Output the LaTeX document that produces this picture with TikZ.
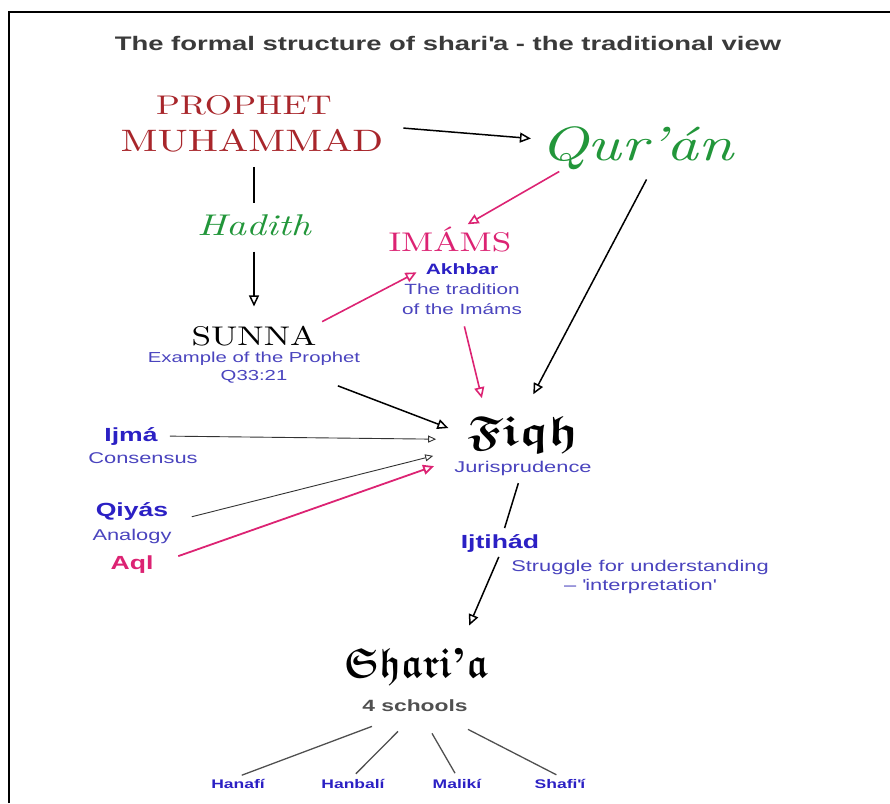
\documentclass[tikz,border=0pt]{standalone}
\usepackage{amsmath}
\usepackage{amssymb}
\usepackage{fontspec}
\usepackage{graphicx}
\usetikzlibrary{arrows.meta, positioning}
\newfontfamily\shrsans[FakeStretch=1.4]{Liberation Sans}
\newfontfamily\shrroman[Extension=.otf, UprightFont=*-regular,
  ItalicFont=*-italic, BoldFont=*-bold, FakeStretch=1.3]{lmroman10}
\newcommand\shrwide[2][1.17]{\scalebox{#1}[1]{#2}}
\newcommand\shrgoth[1]{\ensuremath{\boldsymbol{\mathfrak{#1}}}}
\definecolor{shrInk}{HTML}{3A3A3A}
\definecolor{shrRed}{HTML}{A8262B}
\definecolor{shrGreen}{HTML}{22963A}
\definecolor{shrPink}{HTML}{DC2373}
\definecolor{shrBlue}{HTML}{2B20C4}
\definecolor{shrGloss}{HTML}{4A44BE}
\definecolor{shrGrey}{HTML}{505050}

\begin{document}
\begin{tikzpicture}[
  x=1pt, y=-1pt,
  >={Triangle[open, length=11pt, width=10pt]},
  every node/.style={inner sep=2pt},
  headline/.style={font=\shrsans\bfseries\fontsize{19.6}{23}\selectfont,
                   text=shrInk, anchor=base},
  uncial/.style={font=\shrroman\fontsize{27}{30}\selectfont, anchor=base},
  script/.style={font=\shrroman\itshape\fontsize{30}{34}\selectfont,
                 text=shrGreen, anchor=base},
  goth/.style={font=\fontsize{42}{46}\selectfont, anchor=base},
  term/.style={font=\shrsans\bfseries\fontsize{19}{22}\selectfont,
               text=shrBlue, anchor=base},
  gloss/.style={font=\shrsans\fontsize{15.6}{19}\selectfont, text=shrGloss,
                align=center},
  school/.style={font=\shrsans\bfseries\fontsize{12.5}{15}\selectfont,
                 text=shrBlue, anchor=base},
  flow/.style={->, line width=1.5pt},
  pflow/.style={->, draw=shrPink, line width=1.6pt},
  fine/.style={-{Triangle[open, length=8pt, width=7pt]}, draw=black!80,
               line width=0.9pt},
  branch/.style={draw=shrGrey, line width=1.3pt},
]
\useasboundingbox (0,0) rectangle (890,803);
\draw[line width=2pt] (9,803) -- (9,12) -- (890,12);

% ======================= title ==========================================
\node[headline] (title) at (448,50)
  {The formal structure of shari\textquotesingle a - the traditional view};

% ======================= the prophet and the revelation =================
\node[uncial, text=shrRed] (prophetTop) at (244,114) {PROPHET};
\node[uncial, text=shrRed, font=\shrroman\fontsize{31}{34}\selectfont]
  (prophet) at (252,151) {MUHAMMAD};
\node[script, font=\shrroman\itshape\fontsize{48}{52}\selectfont]
  (quran) at (637,160) {Qur’án};
\draw[flow, shorten <=18pt, shorten >=7pt] (prophet.north east) -- (quran.175);

% Hadith sits on the line down to the Sunna.
\node[script] (hadith) at (254,235) {Hadith};
\node[uncial] (sunna) at (254,345) {SUNNA};
\node[gloss, font=\shrsans\fontsize{14.5}{18}\selectfont] (example)
  at (254,368) {Example of the Prophet\\Q33:21};
\draw[line width=1.5pt, shorten <=13pt, shorten >=9pt]
  (prophet.south -| hadith) -- (hadith.north);
\draw[flow, shorten <=14pt, shorten >=17pt] (hadith.south) -- (sunna.north);

% ======================= imams ==========================================
\node[uncial, text=shrPink] (imams) at (450,251) {IMÁMS};
\node[term, font=\shrsans\bfseries\fontsize{15}{18}\selectfont]
  (akhbar) at (462,274) {Akhbar};
\node[gloss, font=\shrsans\fontsize{14.8}{20}\selectfont] (tradition)
  at (462,299) {The tradition\\of the Imáms};
\draw[pflow] (quran.197) -- (imams.40);
\draw[pflow, shorten <=4pt, shorten >=8pt] (sunna.north east) -- (akhbar.west);

% ======================= fiqh ===========================================
\node[goth] (fiqh) at (523,445) {\shrwide{\shrgoth{Fiqh}}};
\node[gloss, anchor=base] (juris) at (523,472) {Jurisprudence};
\draw[pflow, shorten <=10pt, shorten >=16pt] (tradition.south) -- (fiqh.151);
\draw[flow, shorten <=9pt, shorten >=22pt] (quran.-60) -- (fiqh.north);
\draw[flow, shorten >=18pt] (example.-12) -- (fiqh.west);

% the other sources, from the left
\node[term] (ijma) at (131,441) {Ijmá};
\node[gloss, anchor=base] (consensus) at (143,463) {Consensus};
\node[term] (qiyas) at (132,516) {Qiyás};
\node[gloss, anchor=base] (analogy) at (132,540) {Analogy};
\node[term, text=shrPink] (aql) at (132,569) {Aql};
\draw[fine, shorten <=10pt, shorten >=29pt] (ijma.east) -- (fiqh.185);
\draw[fine, shorten <=22pt, shorten >=33pt] (qiyas.south east) -- (fiqh.193);
\draw[pflow, line width=1.8pt, shorten <=24pt, shorten >=33pt]
  (aql.east) -- (fiqh.south west);

% ======================= ijtihad and shari'a ============================
\node[term] (ijtihad) at (500,548) {Ijtihád};
\node[gloss] (struggle) at (640,577)
  {Struggle for understanding\\– \textquotesingle interpretation\textquotesingle};
\draw[line width=1.5pt, shorten <=6pt, shorten >=4pt] (juris) -- (ijtihad);

\node[goth] (sharia) at (416,677)
  {\shrwide[0.86]{\shrgoth{Shari}{\shrroman\bfseries ’}\shrgoth{a}}};
\node[term, text=shrGrey, font=\shrsans\bfseries\fontsize{16.3}{19}\selectfont]
  (schools) at (415,711) {4 schools};
\draw[flow, shorten <=3pt, shorten >=22pt] (ijtihad.south) -- (sharia.25);

% the four schools
\foreach \i/\x/\lbl/\dx/\dy in {1/238/Hanafí/-43/13, 2/353/Hanbalí/-17/18,
                                3/457/Malikí/17/20, 4/560/Shafi\textquotesingle í/53/16} {
  \node[school] (school\i) at (\x,788) {\lbl};
  \draw[branch, shorten >=4pt] ([shift={(\dx,\dy)}]schools.south) -- (school\i.north);
}
\end{tikzpicture}
\end{document}
